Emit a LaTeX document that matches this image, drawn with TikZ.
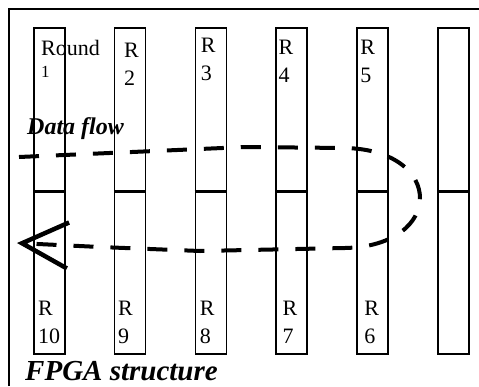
\documentclass[tikz,border=0pt]{standalone}
\usepackage{fontspec}
\setmainfont{Liberation Serif}
\usetikzlibrary{arrows.meta, positioning}

\begin{document}
\begin{tikzpicture}[
    x=1pt, y=-1pt,
    frame/.style={line width=1.5pt},
    colbox/.style={
        rectangle, draw, line width=1.6pt,
        minimum width=31pt, minimum height=163pt,
        inner sep=0pt, anchor=north west
    },
    divider/.style={line width=3pt},
    rlabel/.style={font=\fontsize{22}{28}\selectfont, align=left, inner sep=0pt},
    caption/.style={font=\fontsize{#1}{#1}\selectfont\bfseries\itshape, inner sep=0pt, anchor=base west},
    flow/.style={line width=4pt, dash pattern=on 20pt off 17pt,
        -{Straight Barb[length=46pt, width=46pt, line width=4.5pt]}}
]

\useasboundingbox (0,0) rectangle (479,386);
\draw[frame] (9,386) -- (9,9) -- (479,9);

% six columns, each split in two halves
\foreach \i in {1,...,6} {
    \pgfmathsetmacro{\cx}{33+80.8*(\i-1)}
    \node[colbox] (up\i) at (\cx,27) {};
    \node[colbox] (low\i) at (\cx,190) {};
    \draw[divider] (up\i.south west) -- (up\i.south east);
}

% round names, top half and bottom half
\foreach \i/\uptext/\lowtext/\dx/\dy/\lx in {
    1/{Round\\[-6pt]{\fontsize{17}{20}\selectfont 1}}/{R\\10}/8/13/5,
    2/{R\\2}/{R\\9}/10/16/4,
    3/{R\\3}/{R\\8}/6/11/5,
    4/{R\\4}/{R\\7}/3/13/7,
    5/{R\\5}/{R\\6}/4/13/8} {
    \node[rlabel, below right=\dy pt and \dx pt of up\i.north west] (uplab\i) {\uptext};
    \node[rlabel, below right=111pt and \lx pt of low\i.north west] (lowlab\i) {\lowtext};
}

\node[caption=24] (flowlab) at (27,134) {Data flow};
\node[caption=29] (fpgalab) at (25,380) {FPGA structure};

% data going right along the top and coming back along the bottom
\coordinate (flowin) at (19,157);
\coordinate (flowtip) at (17,243);
\draw[flow] (flowin) -- (245,147) -- (345,148)
    .. controls (445,150) and (445,246) .. (345,248)
    -- (200,251) -- (100,247) -- (flowtip);

\end{tikzpicture}
\end{document}
